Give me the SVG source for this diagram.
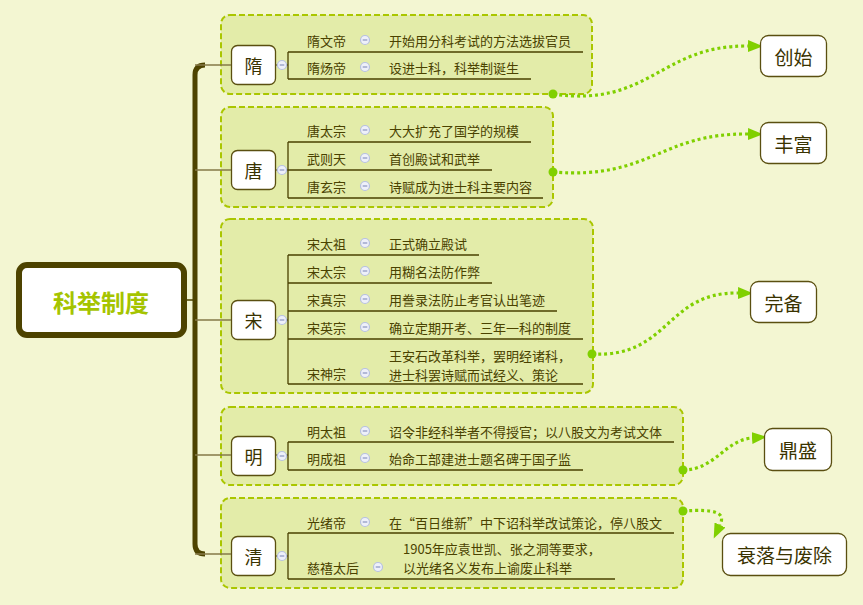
<svg xmlns="http://www.w3.org/2000/svg" width="863" height="605" viewBox="0 0 863 605">
<style>
text{font-family:"Noto Sans CJK SC","Liberation Sans",sans-serif;fill:#4a4200;dominant-baseline:central}
.sub{font-size:13px}
.l1{font-size:18px;text-anchor:middle;fill:#3a3300}
.rn{font-size:19px;text-anchor:middle;fill:#3a3300}
.box{fill:#e3eca9;stroke:#aac600;stroke-width:2;stroke-dasharray:6 3}
.node{fill:#fff;stroke:#5a4f10;stroke-width:1.3}
.ul{stroke:#4a4000;stroke-width:1.3;fill:none}
.br{stroke:#857a48;stroke-width:1.6;fill:none}
.dot{stroke:#80d000;stroke-width:3.2;stroke-dasharray:3 3;fill:none}
.gd{fill:#80d000}
</style>
<defs>
<g id="col"><circle r="4.5" fill="#eef0fa" stroke="#b7c1e0" stroke-width="1.2"/><line x1="-2.3" y1="0" x2="2.3" y2="0" stroke="#8a94c0" stroke-width="1.2"/></g>
<marker id="ar" markerUnits="userSpaceOnUse" markerWidth="16" markerHeight="12" refX="0" refY="6" orient="auto"><path d="M0,0 L15,6 L0,12 z" fill="#80d000"/></marker>
</defs>
<rect width="863" height="605" fill="#f3f6d2"/>

<g id="root">
<rect x="19" y="265" width="165" height="70" rx="8" fill="#fff" stroke="#4d4300" stroke-width="6"/>
<text x="101" y="301" font-size="24" font-weight="bold" text-anchor="middle" style="fill:#a5c400">科举制度</text>
</g>

<g id="sui">
<rect class="box" x="221" y="15" width="371" height="79" rx="9"/>
<rect class="node" x="231.5" y="45.5" width="44" height="39" rx="6"/>
<text class="l1" x="253.5" y="65">隋</text>
<line class="br" x1="276" y1="65" x2="288" y2="65"/>
<use href="#col" x="282" y="65"/>
<path class="ul" d="M288,52V79 M288,52H583 M288,79H531"/>
<text class="sub" x="307" y="40">隋文帝</text><use href="#col" x="365" y="40"/><text class="sub" x="389" y="40">开始用分科考试的方法选拔官员</text>
<text class="sub" x="307" y="67">隋炀帝</text><use href="#col" x="365" y="67"/><text class="sub" x="389" y="67">设进士科，科举制诞生</text>
</g>

<g id="tang">
<rect class="box" x="221" y="107" width="332" height="100" rx="9"/>
<rect class="node" x="231.5" y="150.5" width="44" height="39" rx="6"/>
<text class="l1" x="253.5" y="170">唐</text>
<line class="br" x1="276" y1="170" x2="288" y2="170"/>
<use href="#col" x="282" y="170"/>
<path class="ul" d="M288,142V198 M288,142H531 M288,170H492 M288,198H543"/>
<text class="sub" x="307" y="130">唐太宗</text><use href="#col" x="365" y="130"/><text class="sub" x="389" y="130">大大扩充了国学的规模</text>
<text class="sub" x="307" y="158">武则天</text><use href="#col" x="365" y="158"/><text class="sub" x="389" y="158">首创殿试和武举</text>
<text class="sub" x="307" y="186">唐玄宗</text><use href="#col" x="365" y="186"/><text class="sub" x="389" y="186">诗赋成为进士科主要内容</text>
</g>

<g id="song">
<rect class="box" x="221" y="219" width="372" height="174" rx="9"/>
<rect class="node" x="231.5" y="300.5" width="44" height="39" rx="6"/>
<text class="l1" x="253.5" y="320">宋</text>
<line class="br" x1="276" y1="320" x2="288" y2="320"/>
<use href="#col" x="282" y="320"/>
<path class="ul" d="M288,255V384 M288,255H479 M288,283H492 M288,311H557 M288,339H583 M288,384H583"/>
<text class="sub" x="307" y="243">宋太祖</text><use href="#col" x="365" y="243"/><text class="sub" x="389" y="243">正式确立殿试</text>
<text class="sub" x="307" y="271">宋太宗</text><use href="#col" x="365" y="271"/><text class="sub" x="389" y="271">用糊名法防作弊</text>
<text class="sub" x="307" y="299">宋真宗</text><use href="#col" x="365" y="299"/><text class="sub" x="389" y="299">用誊录法防止考官认出笔迹</text>
<text class="sub" x="307" y="327">宋英宗</text><use href="#col" x="365" y="327"/><text class="sub" x="389" y="327">确立定期开考、三年一科的制度</text>
<text class="sub" x="307" y="373">宋神宗</text><use href="#col" x="365" y="373"/><text class="sub" x="389" y="355">王安石改革科举，罢明经诸科，</text><text class="sub" x="389" y="374">进士科罢诗赋而试经义、策论</text>
</g>

<g id="ming">
<rect class="box" x="221" y="407" width="462" height="78" rx="9"/>
<rect class="node" x="231.5" y="436.5" width="44" height="39" rx="6"/>
<text class="l1" x="253.5" y="456">明</text>
<line class="br" x1="276" y1="455" x2="288" y2="455"/>
<use href="#col" x="282" y="456"/>
<path class="ul" d="M288,442V470 M288,442H674 M288,470H583"/>
<text class="sub" x="307" y="431">明太祖</text><use href="#col" x="365" y="431"/><text class="sub" x="389" y="431">诏令非经科举者不得授官；以八股文为考试文体</text>
<text class="sub" x="307" y="458">明成祖</text><use href="#col" x="365" y="458"/><text class="sub" x="389" y="458">始命工部建进士题名碑于国子监</text>
</g>

<g id="qing">
<rect class="box" x="221" y="498" width="462" height="90" rx="9"/>
<rect class="node" x="231.5" y="536.5" width="44" height="39" rx="6"/>
<text class="l1" x="253.5" y="556">清</text>
<line class="br" x1="276" y1="556" x2="288" y2="556"/>
<use href="#col" x="282" y="556"/>
<path class="ul" d="M288,533V579 M288,533H674 M288,579H615"/>
<text class="sub" x="307" y="522">光绪帝</text><use href="#col" x="365" y="522"/><text class="sub" x="389" y="522">在“百日维新”中下诏科举改试策论，停八股文</text>
<text class="sub" x="307" y="567">慈禧太后</text><use href="#col" x="378" y="567"/><text class="sub" x="403" y="548">1905年应袁世凯、张之洞等要求，</text><text class="sub" x="403" y="567">以光绪名义发布上谕废止科举</text>
</g>

<g id="connectors">
<path d="M205,65 Q195,65 195,75 L195,544 Q195,554 205,554" stroke="#4d4300" stroke-width="5" fill="none"/>
<line x1="187" y1="300" x2="195" y2="300" stroke="#4d4300" stroke-width="1.5"/>
<path class="br" d="M195,65H231 M195,170H231 M195,320H231 M195,455H231 M195,554H231"/>
<path class="dot" d="M553,94 C650,108 660,45 748,46" marker-end="url(#ar)"/>
<path class="dot" d="M553,172 C650,180 660,133 748,134" marker-end="url(#ar)"/>
<path class="dot" d="M592,354 C670,358 665,292 738,293" marker-end="url(#ar)"/>
<path class="dot" d="M683,470 C715,470 725,440 752,438" marker-end="url(#ar)"/>
<path class="dot" d="M683,511 C715,509 726,512 720,525" marker-end="url(#ar)"/>
<circle class="gd" cx="553" cy="94" r="4.5"/>
<circle class="gd" cx="553" cy="172" r="4.5"/>
<circle class="gd" cx="592" cy="354" r="4.5"/>
<circle class="gd" cx="683" cy="470" r="4.5"/>
<circle class="gd" cx="683" cy="511" r="4.5"/>
</g>

<g id="chuangshi"><rect class="node" x="760.5" y="35.5" width="66" height="41" rx="8"/><text class="rn" x="793.5" y="56">创始</text></g>
<g id="fengfu"><rect class="node" x="760.5" y="122.5" width="66" height="41" rx="8"/><text class="rn" x="793.5" y="143">丰富</text></g>
<g id="wanbei"><rect class="node" x="750.5" y="281.5" width="66" height="41" rx="8"/><text class="rn" x="783.5" y="302">完备</text></g>
<g id="dingsheng"><rect class="node" x="764.5" y="428.5" width="67" height="42" rx="8"/><text class="rn" x="798" y="449">鼎盛</text></g>
<g id="shuailuo"><rect class="node" x="722.5" y="533.5" width="124" height="42" rx="8"/><text class="rn" x="784.5" y="554">衰落与废除</text></g>
</svg>
